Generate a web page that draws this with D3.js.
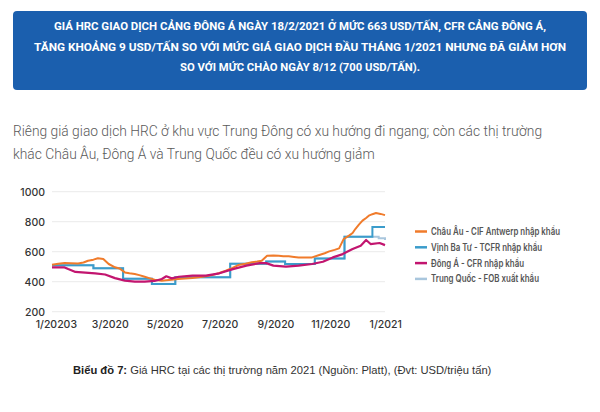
<!DOCTYPE html>
<html><head><meta charset="utf-8">
<script src="https://cdn.jsdelivr.net/npm/d3@7"></script>
<style>
html,body{margin:0;padding:0;background:#fff;}
svg{display:block;}
</style></head>
<body>
<svg id="c" width="600" height="412"></svg>
<script>
// ---------- DATA ----------
const headerLines = [
  "GIÁ HRC GIAO DỊCH CẢNG ĐÔNG Á NGÀY 18/2/2021 Ở MỨC 663 USD/TẤN, CFR CẢNG ĐÔNG Á,",
  "TĂNG KHOẢNG 9 USD/TẤN SO VỚI MỨC GIÁ GIAO DỊCH ĐẦU THÁNG 1/2021 NHƯNG ĐÃ GIẢM HƠN",
  "SO VỚI MỨC CHÀO NGÀY 8/12 (700 USD/TẤN)."
];
const subtitleLines = [
  "Riêng giá giao dịch HRC ở khu vực Trung Đông có xu hướng đi ngang; còn các thị trường",
  "khác Châu Âu, Đông Á và Trung Quốc đều có xu hướng giảm"
];
const captionBold = "Biểu đồ 7:";
const captionRest = " Giá HRC tại các thị trường năm 2021 (Nguồn: Platt), (Đvt: USD/triệu tấn)";

const seriesNames = [
  "Châu Âu - CIF Antwerp nhập khẩu",
  "Vịnh Ba Tư - TCFR nhập khẩu",
  "Đông Á - CFR nhập khẩu",
  "Trung Quốc - FOB xuất khẩu"
];

const xTickDates = ["2020-01-01","2020-03-01","2020-05-01","2020-07-01","2020-09-01","2020-11-01","2021-01-01"];
const xTickLabels = ["1/20203","3/2020","5/2020","7/2020","9/2020","11/2020","1/2021"];
const yTicks = [200,400,600,800,1000];

// Châu Âu - CIF Antwerp
const euDates = ["2019-12-30","2020-01-06","2020-01-13","2020-01-20","2020-01-28","2020-02-03","2020-02-08","2020-02-14","2020-02-19","2020-02-25","2020-03-02","2020-03-09","2020-03-14","2020-03-20","2020-03-25","2020-03-31","2020-04-05","2020-04-11","2020-04-16","2020-04-22","2020-04-30","2020-05-05","2020-05-11","2020-05-18","2020-05-26","2020-06-03","2020-06-10","2020-06-18","2020-06-25","2020-07-03","2020-07-10","2020-07-17","2020-07-24","2020-08-01","2020-08-08","2020-08-14","2020-08-19","2020-08-25","2020-09-01","2020-09-07","2020-09-12","2020-09-18","2020-09-24","2020-09-29","2020-10-07","2020-10-14","2020-10-22","2020-10-28","2020-11-02","2020-11-08","2020-11-13","2020-11-18","2020-11-24","2020-11-28","2020-12-01","2020-12-05","2020-12-09","2020-12-13","2020-12-16","2020-12-20","2020-12-24","2020-12-29","2021-01-03"];
const euValues = [513,520,524,523,522,528,540,547,556,551,518,496,488,462,456,451,444,433,424,413,407,410,413,418,422,425,429,436,444,458,473,490,511,520,529,534,540,573,574,573,570,569,565,562,561,562,578,590,602,612,622,684,707,725,751,780,807,825,840,850,858,852,844];

// Vịnh Ba Tư - TCFR (step series)
const gulfDates = ["2019-12-30","2020-02-14","2020-03-18","2020-04-19","2020-05-15","2020-07-15","2020-08-24","2020-09-14","2020-10-17","2020-11-19","2020-12-20","2021-01-03"];
const gulfValues = [510,490,420,385,430,520,535,518,555,700,765,765];

// Đông Á - CFR
const eaDates = ["2019-12-30","2020-01-13","2020-01-17","2020-01-25","2020-02-05","2020-02-16","2020-02-27","2020-03-09","2020-03-20","2020-03-31","2020-04-11","2020-04-22","2020-04-30","2020-05-05","2020-05-11","2020-05-19","2020-06-03","2020-06-18","2020-07-03","2020-07-18","2020-08-02","2020-08-17","2020-08-24","2020-09-01","2020-09-15","2020-09-29","2020-10-14","2020-10-26","2020-11-06","2020-11-17","2020-11-28","2020-12-07","2020-12-13","2020-12-18","2020-12-28","2021-01-03"];
const eaValues = [495,495,484,465,460,456,448,424,407,400,400,405,418,436,422,433,440,440,456,484,507,524,524,507,500,507,518,533,562,584,618,640,678,651,658,644];

// Trung Quốc - FOB (step series)
const cnDates = ["2019-12-30","2020-02-14","2020-03-18","2020-04-19","2020-05-15","2020-07-15","2020-08-24","2020-09-14","2020-10-17","2020-11-19","2020-12-20","2020-12-27","2021-01-03"];
const cnValues = [510,490,420,385,430,520,535,518,555,700,700,690,678];

// ---------- DRAW ----------
const svg = d3.select("#c");
const parse = d3.timeParse("%Y-%m-%d");

// Header box
svg.append("rect").attr("x",13).attr("y",11).attr("width",574).attr("height",79)
  .attr("rx",4).attr("fill","#1b5fae");
const headerWidths = [492, 532, 240];
headerLines.forEach((t,i)=>{
  svg.append("text").attr("x",300).attr("y",30 + i*20.5)
    .attr("text-anchor","middle")
    .attr("font-family","Roboto, 'Noto Sans', sans-serif")
    .attr("font-weight","700").attr("font-size",11)
    .attr("fill","#ffffff")
    .attr("textLength",headerWidths[i]).attr("lengthAdjust","spacingAndGlyphs")
    .text(t);
});

// Subtitle
subtitleLines.forEach((t,i)=>{
  svg.append("text").attr("x",13).attr("y",136 + i*22.5)
    .attr("font-family","Roboto, sans-serif").attr("font-weight","300")
    .attr("font-size",13.8).attr("fill","#5a5a5a")
    .text(t);
});

// Scales
const x = d3.scaleTime().domain([parse("2019-12-30"), parse("2021-01-03")]).range([52,385]);
const y = d3.scaleLinear().domain([200,1000]).range([311.7,191.7]);

// Grid
svg.append("g").selectAll("line").data(yTicks).join("line")
  .attr("x1",52).attr("x2",385)
  .attr("y1",d=>y(d)).attr("y2",d=>y(d))
  .attr("stroke","#ebebeb").attr("stroke-width",1);

// Y axis labels
const yAxis = d3.axisLeft(y).tickValues(yTicks).tickSize(0).tickPadding(0).tickFormat(d3.format("d"));
const gy = svg.append("g").attr("transform","translate(45,0)").call(yAxis);
gy.select(".domain").remove();
gy.selectAll("text").attr("font-family","Inter, 'Open Sans', sans-serif")
  .attr("font-weight","500").attr("font-size",10.5).attr("fill","#333");

// X axis labels
const xAxis = d3.axisBottom(x).tickValues(xTickDates.map(parse)).tickSize(0).tickPadding(0)
  .tickFormat((d,i)=>xTickLabels[i]);
const gx = svg.append("g").attr("transform","translate(2,321)").call(xAxis);
gx.select(".domain").remove();
gx.selectAll("text").attr("font-family","Inter, 'Open Sans', sans-serif")
  .attr("font-weight","500").attr("font-size",10.5).attr("fill","#333");

// Lines
function mk(dates, vals){ return dates.map((d,i)=>({d:parse(d), v:vals[i]})); }
const lineLin = d3.line().x(p=>x(p.d)).y(p=>y(p.v));
const lineStep = d3.line().x(p=>x(p.d)).y(p=>y(p.v)).curve(d3.curveStepAfter);

const colors = ["#f07b2b","#3b9ccb","#c2156f","#a9c6dd"];

svg.append("path").datum(mk(cnDates,cnValues)).attr("d",lineStep)
  .attr("fill","none").attr("stroke",colors[3]).attr("stroke-width",2);
svg.append("path").datum(mk(gulfDates,gulfValues)).attr("d",lineStep)
  .attr("fill","none").attr("stroke",colors[1]).attr("stroke-width",2);
svg.append("path").datum(mk(euDates,euValues)).attr("d",lineLin)
  .attr("fill","none").attr("stroke",colors[0]).attr("stroke-width",2).attr("stroke-linejoin","round");
svg.append("path").datum(mk(eaDates,eaValues)).attr("d",lineLin)
  .attr("fill","none").attr("stroke",colors[2]).attr("stroke-width",2.2).attr("stroke-linejoin","round");

// Legend
const legendWidths = [129, 111, 93, 108];
const lg = svg.append("g");
seriesNames.forEach((n,i)=>{
  const yy = 231.5 + i*15.8;
  lg.append("line").attr("x1",415).attr("x2",427).attr("y1",yy).attr("y2",yy)
    .attr("stroke",colors[i]).attr("stroke-width",2.5);
  lg.append("text").attr("x",431).attr("y",yy).attr("dy","0.35em")
    .attr("font-family","Inter, 'Open Sans', sans-serif").attr("font-weight","600")
    .attr("font-size",10).attr("fill","#555")
    .attr("textLength",legendWidths[i]).attr("lengthAdjust","spacingAndGlyphs")
    .text(n);
});

// Caption
const cap = svg.append("text").attr("x",73).attr("y",374)
  .attr("font-family","'Liberation Sans', Arial, sans-serif").attr("font-size",11.2).attr("fill","#333");
cap.append("tspan").attr("font-weight","700").attr("fill","#222").text(captionBold);
cap.append("tspan").text(captionRest);
</script>
</body></html>
